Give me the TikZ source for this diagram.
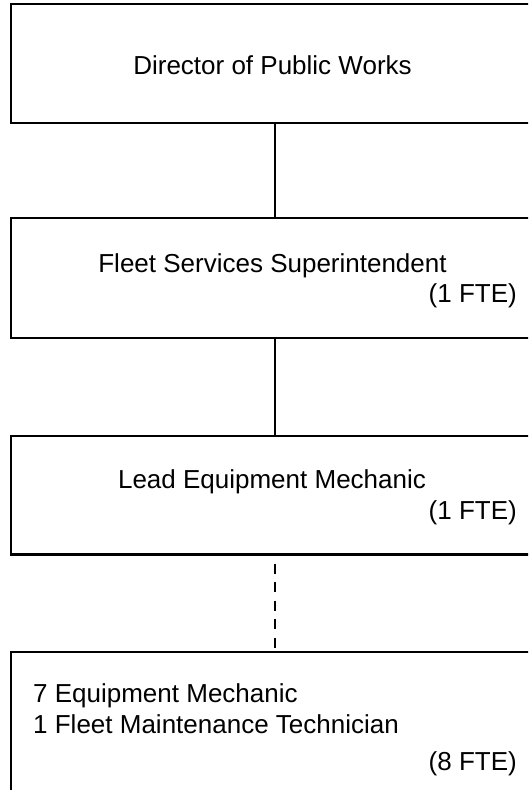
\documentclass[tikz,border=0pt]{standalone}
\usepackage{fontspec}
\setmainfont{Liberation Sans}
\begin{document}
\begin{tikzpicture}[x=1pt,y=-1pt,
  orgbox/.style={draw=black, line width=2.7pt, minimum width=524pt, inner sep=0pt, fill=white},
  label/.style={inner sep=0pt, font=\fontsize{26}{30}\selectfont},
  solidlink/.style={draw=black, line width=2.1pt},
  dashlink/.style={draw=black, line width=2.1pt, dash pattern=on 10pt off 8.5pt, dash phase=10.5pt}
]
\useasboundingbox (0,0) rectangle (528,790);
\clip (0,0) rectangle (528,790);
\fill[white] (0,0) rectangle (528,790);
% boxes
\node[orgbox, minimum height=119pt] (b1) at (273,63.5) {};
\node[orgbox, minimum height=120pt] (b2) at (273,278) {};
\node[orgbox, minimum height=118.5pt] (b3) at (273,495.25) {};
\node[orgbox, minimum height=160pt] (b4) at (273,732) {};
% connectors
\draw[solidlink] ([xshift=2pt]b1.south) -- ([xshift=2pt]b2.north);
\draw[solidlink] ([xshift=2pt]b2.south) -- ([xshift=2pt]b3.north);
\draw[dashlink] ([xshift=2pt]b3.south) -- ([xshift=2pt]b4.north);
% texts
\node[label, anchor=base] (t1) at (272.5,74) {Director of Public Works};
\node[label, anchor=base] (t2) at (272.5,272) {Fleet Services Superintendent};
\node[label, anchor=base east] (t2f) at (517,302) {(1 FTE)};
\node[label, anchor=base] (t3) at (272,488) {Lead Equipment Mechanic};
\node[label, anchor=base east] (t3f) at (517,519) {(1 FTE)};
\node[label, anchor=base west] (t4a) at (33,702) {7 Equipment Mechanic};
\node[label, anchor=base west] (t4b) at (33,733) {1 Fleet Maintenance Technician};
\node[label, anchor=base east] (t4f) at (517,770) {(8 FTE)};
\end{tikzpicture}
\end{document}
